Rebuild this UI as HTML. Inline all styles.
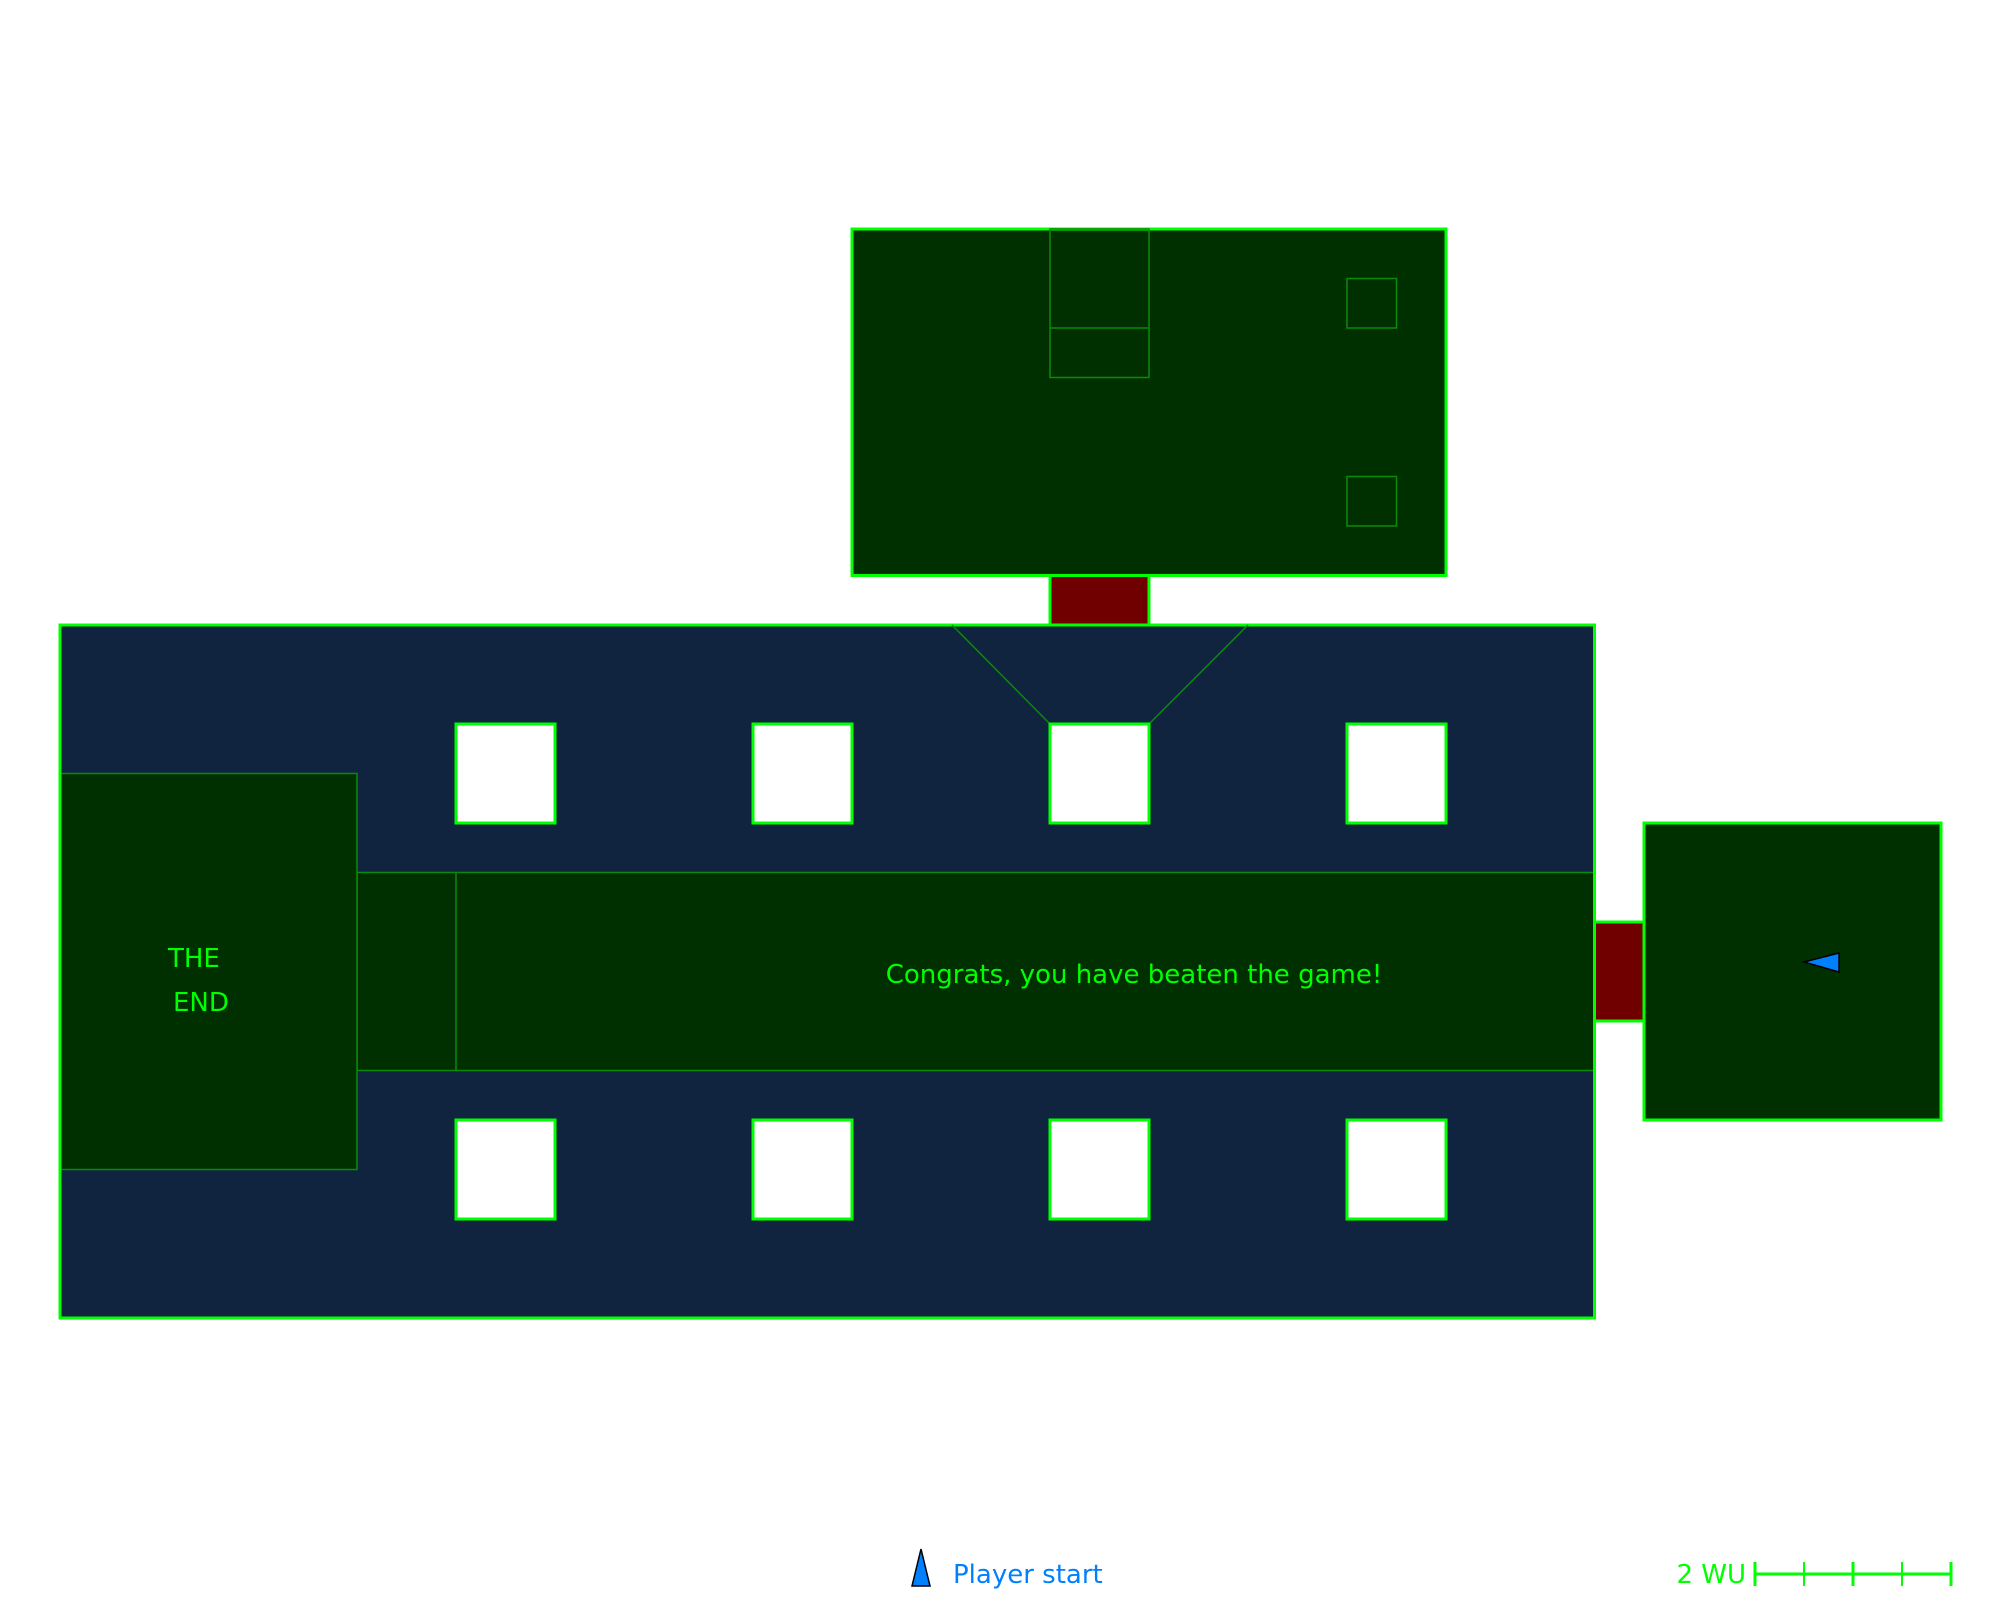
<!DOCTYPE html>
<html><head><meta charset="utf-8"><style>html,body{margin:0;padding:0;background:#fff}svg{display:block}</style></head>
<body>
<svg width="2000" height="1600" viewBox="0 0 2000 1600" xmlns="http://www.w3.org/2000/svg" font-family="DejaVu Sans, Liberation Sans, sans-serif">
<rect width="2000" height="1600" fill="#fff"/>
<!-- top room -->
<rect x="852" y="229" width="594" height="346.5" fill="#003000" stroke="#00ff00" stroke-width="3"/>
<g fill="none" stroke="#0a8a0a" stroke-width="1.5">
<rect x="1050" y="229" width="99" height="148.5"/>
<line x1="1050" y1="328" x2="1149" y2="328"/>
<rect x="1347" y="278.5" width="49.5" height="49.5"/>
<rect x="1347" y="476.5" width="49.5" height="49.5"/>
</g>
<!-- top door -->
<rect x="1050" y="575.5" width="99" height="49.5" fill="#700000" stroke="#00ff00" stroke-width="3"/>
<!-- main room -->
<rect x="60" y="625" width="1534.5" height="693" fill="#10243f" stroke="#00ff00" stroke-width="3"/>
<rect x="357" y="872.5" width="1237.5" height="198" fill="#003000" stroke="#0a8a0a" stroke-width="1.5"/>
<line x1="456" y1="872.5" x2="456" y2="1070.5" stroke="#0a8a0a" stroke-width="1.5"/>
<rect x="60" y="773.5" width="297" height="396" fill="#003000" stroke="#0a8a0a" stroke-width="1.5"/>
<line x1="60" y1="625" x2="60" y2="1318" stroke="#00ff00" stroke-width="3"/>
<line x1="1594.5" y1="625" x2="1594.5" y2="1318" stroke="#00ff00" stroke-width="3"/>
<line x1="952" y1="625" x2="1050" y2="724" stroke="#0a8a0a" stroke-width="1.5"/>
<line x1="1149" y1="724" x2="1248" y2="625" stroke="#0a8a0a" stroke-width="1.5"/>
<g fill="#fff" stroke="#00ff00" stroke-width="3">
<rect x="456" y="724" width="99" height="99"/><rect x="753" y="724" width="99" height="99"/>
<rect x="1050" y="724" width="99" height="99"/><rect x="1347" y="724" width="99" height="99"/>
<rect x="456" y="1120" width="99" height="99"/><rect x="753" y="1120" width="99" height="99"/>
<rect x="1050" y="1120" width="99" height="99"/><rect x="1347" y="1120" width="99" height="99"/>
</g>
<!-- right door and room -->
<rect x="1594.5" y="922" width="49.5" height="99" fill="#700000" stroke="#00ff00" stroke-width="3"/>
<rect x="1644" y="823" width="297" height="297" fill="#003000" stroke="#00ff00" stroke-width="3"/>
<polygon points="1804,962 1839,953 1839,972" fill="#0080ff" stroke="#000" stroke-width="1.5"/>
<!-- texts -->
<g fill="#00ff00" font-size="26">
<text x="168" y="967">THE</text>
<text x="173" y="1011">END</text>
<text x="1134" y="983" text-anchor="middle" font-size="26">Congrats, you have beaten the game!</text>
</g>
<!-- legend -->
<polygon points="921,1549 912,1586 930,1586" fill="#0080ff" stroke="#000" stroke-width="1.5"/>
<text x="953" y="1583" font-size="26" fill="#0080ff">Player start</text>
<text x="1746" y="1583" font-size="26" fill="#00ff00" text-anchor="end">2 WU</text>
<g stroke="#00ff00" stroke-width="3">
<line x1="1755" y1="1574" x2="1951" y2="1574"/>
<line x1="1755" y1="1562" x2="1755" y2="1586"/>
<line x1="1853" y1="1562" x2="1853" y2="1586"/>
<line x1="1951" y1="1562" x2="1951" y2="1586"/>
</g>
<g stroke="#00ff00" stroke-width="2">
<line x1="1804" y1="1562" x2="1804" y2="1586"/>
<line x1="1902" y1="1562" x2="1902" y2="1586"/>
</g>
</svg>
</body></html>
